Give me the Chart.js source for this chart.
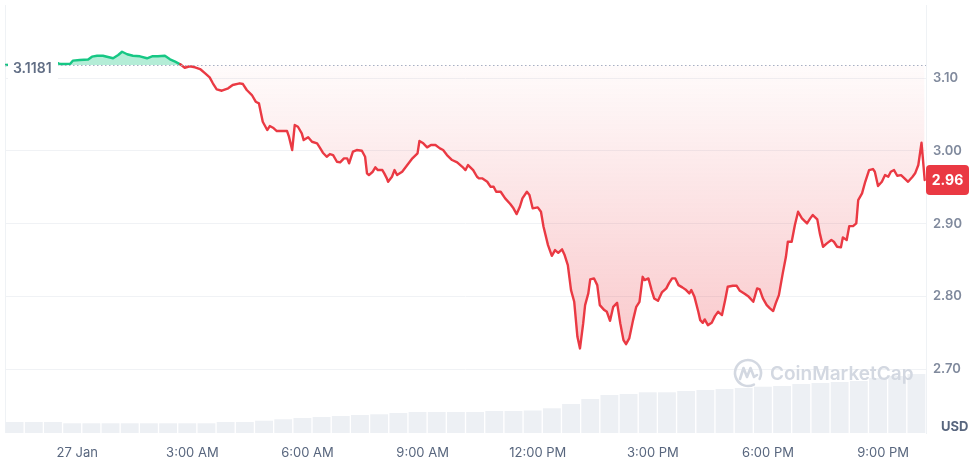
<!DOCTYPE html>
<html><head><meta charset="utf-8">
<script src="https://cdn.jsdelivr.net/npm/chart.js@4.4.1/dist/chart.umd.min.js"></script>
<style>html,body{margin:0;padding:0;background:#fff}#wrap{width:976px;height:457px;position:relative}</style>
</head><body><div id="wrap"><canvas id="c" width="976" height="457"></canvas></div>
<script>
// ---- data ----
const basePrice = 3.1181;
// minutes relative to 27 Jan 00:00
const times = [-113,-90,-58,-32,-27,-19,-11,-7,4,17,23,31,40,48,56,64,70,78,87,98,109,117,126,137,145,153,161,168,176,184,192,200,207,212,218,226,236,243,254,259,265,273,279,284,290,297,301,306,312,322,328,331,336,340,345,351,354,361,367,375,379,384,390,395,400,406,411,417,422,425,431,437,445,450,453,456,462,466,470,477,480,484,486,492,496,500,508,516,524,532,535,541,547,553,560,567,572,578,586,594,602,607,611,619,625,628,633,641,646,651,655,662,669,677,682,687,692,696,703,707,712,720,725,729,736,742,747,752,758,762,767,772,777,782,786,791,794,799,802,808,813,817,824,828,833,838,844,849,854,858,863,869,874,879,884,887,893,898,902,908,914,921,925,930,935,940,946,952,957,960,965,971,974,978,981,986,992,997,1002,1008,1013,1017,1025,1031,1036,1044,1050,1057,1063,1067,1072,1078,1083,1088,1092,1097,1103,1108,1111,1117,1122,1127,1133,1141,1146,1150,1157,1161,1166,1172,1179,1183,1188,1194,1197,1203,1207,1213,1218,1221,1227,1232,1238,1244,1247,1252,1258,1263,1268,1272,1277,1282,1288,1295,1299,1306,1310,1315,1320,1325];
const prices = [3.1181,3.1190,3.1200,3.1213,3.1195,3.1195,3.1199,3.1241,3.1250,3.1257,3.1296,3.1309,3.1309,3.1291,3.1274,3.1319,3.1364,3.1329,3.1309,3.1301,3.1274,3.1301,3.1301,3.1309,3.1260,3.1227,3.1191,3.1144,3.1164,3.1150,3.1126,3.1067,3.1012,3.0930,3.0847,3.0828,3.0861,3.0907,3.0930,3.0920,3.0838,3.0769,3.0677,3.0655,3.0402,3.0288,3.0343,3.0320,3.0274,3.0274,3.0274,3.0196,3.0013,3.0357,3.0333,3.0243,3.0150,3.0188,3.0127,3.0105,3.0050,2.9976,2.9921,2.9958,2.9944,2.9852,2.9844,2.9899,2.9899,2.9830,2.9990,3.0013,3.0003,2.9921,2.9693,2.9669,2.9715,2.9775,2.9738,2.9738,2.9693,2.9624,2.9577,2.9646,2.9738,2.9669,2.9715,2.9807,2.9899,2.9968,3.0137,3.0105,3.0050,3.0082,3.0082,3.0036,3.0013,2.9944,2.9876,2.9844,2.9783,2.9738,2.9807,2.9738,2.9646,2.9624,2.9624,2.9577,2.9509,2.9509,2.9440,2.9440,2.9349,2.9271,2.9212,2.9133,2.9234,2.9349,2.9440,2.9395,2.9212,2.9225,2.9165,2.8959,2.8707,2.8560,2.8638,2.8601,2.8648,2.8570,2.8432,2.8089,2.7928,2.7447,2.7287,2.7631,2.7882,2.8043,2.8236,2.8249,2.8157,2.7882,2.7814,2.7790,2.7667,2.7859,2.7914,2.7631,2.7401,2.7346,2.7425,2.7676,2.7859,2.7928,2.8271,2.8226,2.8249,2.8089,2.7974,2.7941,2.8057,2.8112,2.8181,2.8249,2.8249,2.8157,2.8126,2.8089,2.8043,2.8089,2.7996,2.7790,2.7676,2.7639,2.7686,2.7607,2.7639,2.7731,2.7790,2.7745,2.7951,2.8134,2.8148,2.8148,2.8079,2.8034,2.7996,2.7928,2.8112,2.8098,2.7974,2.7882,2.7837,2.7800,2.7906,2.8020,2.8318,2.8546,2.8753,2.8753,2.8982,2.9165,2.9074,2.9005,2.9074,2.9120,2.9060,2.8868,2.8684,2.8731,2.8776,2.8753,2.8684,2.8676,2.8813,2.8776,2.8968,2.8968,2.9005,2.9326,2.9418,2.9577,2.9738,2.9752,2.9715,2.9518,2.9577,2.9669,2.9646,2.9715,2.9738,2.9660,2.9669,2.9610,2.9577,2.9646,2.9693,2.9807,3.0113,2.9601];
const volLabels = ['22:00','22:30','23:00','23:30','00:00','00:30','01:00','01:30','02:00','02:30','03:00','03:30','04:00','04:30','05:00','05:30','06:00','06:30','07:00','07:30','08:00','08:30','09:00','09:30','10:00','10:30','11:00','11:30','12:00','12:30','13:00','13:30','14:00','14:30','15:00','15:30','16:00','16:30','17:00','17:30','18:00','18:30','19:00','19:30','20:00','20:30','21:00','21:30'];
const volumes = [11,11,11,9.7,9.7,9.7,9.7,9.7,9.7,9.7,9.7,11,11,12.3,13.7,15,16,17,18,18.7,20,21,21,21,21,22,22,22.5,24.7,29,34,38,39,40.7,40.7,42,43,44,45,46.3,47,49,50,51,52,55,57,59];
const xTickMinutes = [0,180,360,540,720,900,1080,1260];
const xTickLabels = ['27 Jan','3:00 AM','6:00 AM','9:00 AM','12:00 PM','3:00 PM','6:00 PM','9:00 PM'];
const yTicks = [2.70,2.80,2.90,3.00,3.10];

if (times.length !== prices.length) throw new Error('length mismatch ' + times.length + ' ' + prices.length);

const GREEN = '#16c784', RED = '#ea3943';

function rr(ctx, x, y, w, h, r) {
  ctx.beginPath();
  ctx.moveTo(x + r, y); ctx.lineTo(x + w - r, y); ctx.quadraticCurveTo(x + w, y, x + w, y + r);
  ctx.lineTo(x + w, y + h - r); ctx.quadraticCurveTo(x + w, y + h, x + w - r, y + h);
  ctx.lineTo(x + r, y + h); ctx.quadraticCurveTo(x, y + h, x, y + h - r);
  ctx.lineTo(x, y + r); ctx.quadraticCurveTo(x, y, x + r, y); ctx.closePath();
}

const overlay = {
  id: 'overlay',
  beforeDatasetsDraw(chart) {
    const {ctx, chartArea: a} = chart;
    ctx.save();
    ctx.strokeStyle = '#eff2f5'; ctx.lineWidth = 1;
    ctx.beginPath(); ctx.moveTo(a.left + 0.5, a.top); ctx.lineTo(a.left + 0.5, a.bottom); ctx.stroke();
    ctx.restore();
  },
  afterDatasetsDraw(chart) {
    const {ctx, chartArea: a, scales: {y}} = chart;
    ctx.save();
    // watermark
    const wx = a.right - 178, wy = 373;
    ctx.strokeStyle = '#d3d8e1'; ctx.lineWidth = 2.6; ctx.lineCap = 'round'; ctx.lineJoin = 'round';
    ctx.beginPath(); ctx.arc(wx, wy, 13, Math.PI * 0.35, Math.PI * 2.15); ctx.stroke();
    ctx.beginPath();
    ctx.moveTo(wx - 8, wy + 6); ctx.lineTo(wx - 4.5, wy - 5); ctx.lineTo(wx - 1, wy + 4);
    ctx.lineTo(wx + 2.5, wy - 5); ctx.lineTo(wx + 6, wy + 4); ctx.lineTo(wx + 9, wy + 2);
    ctx.stroke();
    ctx.fillStyle = '#d3d8e1'; ctx.font = '600 19px Inter'; ctx.textBaseline = 'middle'; ctx.textAlign = 'left';
    ctx.fillText('CoinMarketCap', wx + 22, wy + 1);

    // dotted baseline
    const by = Math.round(y.getPixelForValue(basePrice)) + 0.5;
    ctx.strokeStyle = '#a6b0c3'; ctx.lineWidth = 1.2; ctx.setLineDash([1.5, 2.5]); ctx.lineCap = 'butt';
    ctx.beginPath(); ctx.moveTo(a.left, by); ctx.lineTo(a.right, by); ctx.stroke();
    ctx.setLineDash([]);
    // base label
    ctx.fillStyle = '#fff'; ctx.fillRect(a.left + 3, by - 10, 50, 24);
    ctx.fillStyle = '#616e85'; ctx.font = '600 14px Inter'; ctx.textBaseline = 'middle'; ctx.textAlign = 'left';
    ctx.fillText(basePrice.toFixed(4), a.left + 8, by + 3);

    // last price tag
    const last = prices[prices.length - 1];
    const py = y.getPixelForValue(last);
    ctx.fillStyle = RED; rr(ctx, a.right, py - 15, 43, 30, 4); ctx.fill();
    ctx.fillStyle = '#fff'; ctx.font = '700 14px Inter'; ctx.textAlign = 'center';
    ctx.fillText(last.toFixed(2), a.right + 21.5, py + 1);

    // USD
    ctx.fillStyle = '#58667e'; ctx.font = '700 13px Inter'; ctx.textAlign = 'left';
    ctx.fillText('USD', a.right + 15, 427);
    ctx.restore();
  }
};

new Chart(document.getElementById('c'), {
  type: 'line',
  data: {
    datasets: [
      {
        type: 'line',
        data: times.map((t, i) => ({x: t, y: prices[i]})),
        xAxisID: 'x', yAxisID: 'y',
        borderWidth: 2.4, pointRadius: 0, tension: 0,
        borderJoinStyle: 'round', borderCapStyle: 'round',
        borderColor: RED,
        segment: { borderColor: c => ((c.p0.parsed.y + c.p1.parsed.y) / 2 >= basePrice ? GREEN : RED) },
        fill: { value: basePrice, above: 'rgba(22,199,132,0.32)' },
        backgroundColor: c => {
          const ch = c.chart, a = ch.chartArea;
          if (!a || !ch.scales.y) return 'rgba(234,57,67,0.1)';
          const y0 = ch.scales.y.getPixelForValue(basePrice);
          const y1 = ch.scales.y.getPixelForValue(2.72);
          const g = ch.ctx.createLinearGradient(0, y0, 0, y1);
          g.addColorStop(0, 'rgba(234,57,67,0.02)');
          g.addColorStop(1, 'rgba(234,57,67,0.28)');
          return g;
        },
        order: 1
      },
      {
        type: 'bar',
        data: volumes,
        xAxisID: 'xv', yAxisID: 'yv',
        backgroundColor: '#edf0f4',
        grouped: false,
        barPercentage: 0.93, categoryPercentage: 1,
        order: 2
      }
    ]
  },
  options: {
    responsive: false, devicePixelRatio: 1, animation: false, events: [],
    layout: { padding: { left: 5, top: 5, right: 0, bottom: 0 } },
    plugins: { legend: { display: false }, tooltip: { enabled: false } },
    scales: {
      x: {
        type: 'linear', position: 'bottom', min: -113, max: 1327,
        afterBuildTicks: ax => { ax.ticks = xTickMinutes.map(v => ({value: v})); },
        afterFit: ax => { ax.height = 24; ax.paddingLeft = 0; ax.paddingRight = 0; },
        grid: { display: false, drawTicks: false },
        border: { display: false },
        ticks: {
          padding: 12, color: '#58667e', maxRotation: 0, autoSkip: false,
          font: { family: 'Inter', size: 13 },
          callback: v => { const i = xTickMinutes.indexOf(v); return i >= 0 ? xTickLabels[i] : ''; }
        }
      },
      y: {
        position: 'right', min: 2.6125, max: 3.2006,
        afterBuildTicks: ax => { ax.ticks = yTicks.map(v => ({value: v})); },
        afterFit: ax => { ax.width = 50; ax.paddingTop = 0; ax.paddingBottom = 0; },
        grid: { color: '#f0f2f5', drawTicks: false },
        border: { display: true, color: '#eff2f5' },
        ticks: {
          padding: 7, color: '#808a9d',
          font: { family: 'Inter', size: 13, weight: '600' },
          callback: v => Number(v).toFixed(2)
        }
      },
      xv: { type: 'category', labels: volLabels, display: false, offset: true },
      yv: { type: 'linear', display: false, min: 0, max: 428 }
    }
  },
  plugins: [overlay]
});
</script>
</body></html>
